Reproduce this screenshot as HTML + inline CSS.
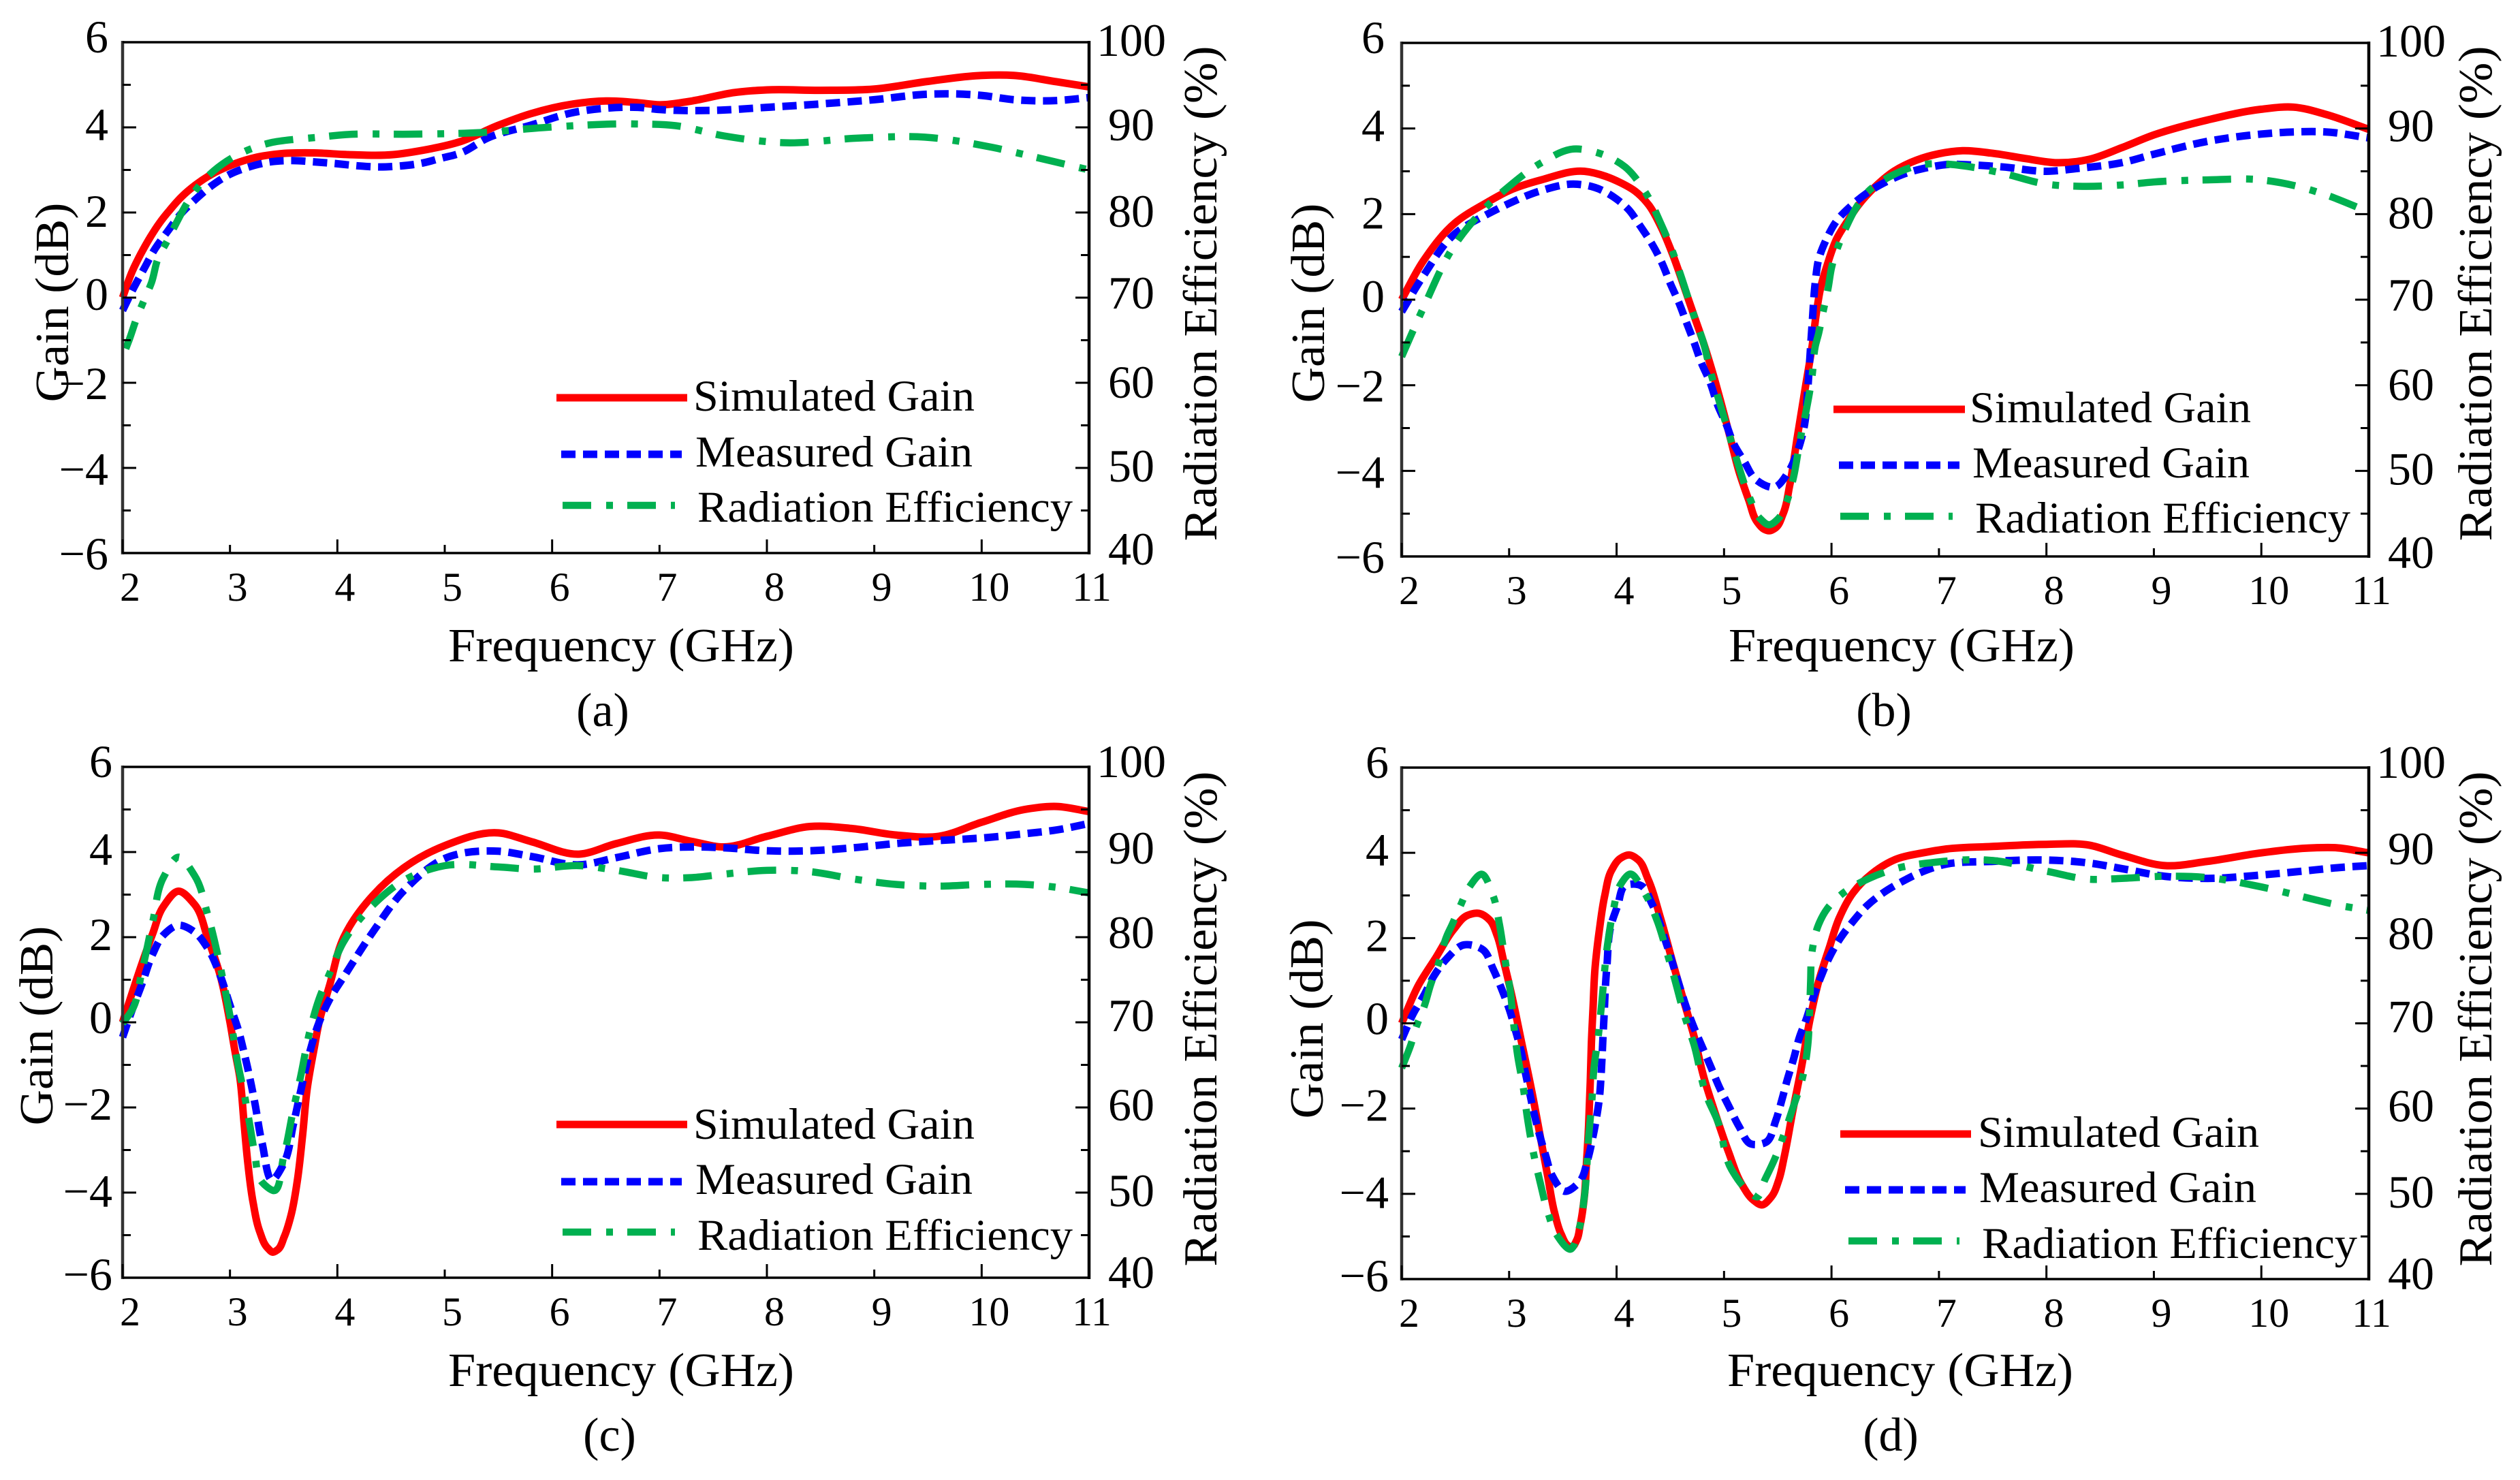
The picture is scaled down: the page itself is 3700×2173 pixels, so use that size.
<!DOCTYPE html>
<html lang="en">
<head>
<meta charset="utf-8">
<title>Gain and radiation efficiency versus frequency</title>
<style>
html,body{margin:0;padding:0;background:#fff;width:3700px;height:2173px;overflow:hidden}
svg{display:block}
text{font-family:"Liberation Serif",serif;fill:#000}
.title{font-size:70px}
.legend{font-size:65px}
.caption{font-size:70px}
</style>
</head>
<body>
<svg id="figure" xmlns="http://www.w3.org/2000/svg" width="3700" height="2173" viewBox="0 0 3700 2173">
<rect x="0" y="0" width="3700" height="2173" fill="#fff"/>

<g id="panel-a">
  <g id="plot-a"></g>
  <text class="title" x="912" y="971" text-anchor="middle" textLength="508" lengthAdjust="spacingAndGlyphs">Frequency (GHz)</text>
  <text class="title" transform="translate(100,444) rotate(-90)" text-anchor="middle" textLength="293" lengthAdjust="spacingAndGlyphs">Gain (dB)</text>
  <text class="title" transform="translate(1786,431) rotate(-90)" text-anchor="middle" textLength="727" lengthAdjust="spacingAndGlyphs">Radiation Efficiency (%)</text>
  <g>
    <line x1="817" x2="1009" y1="584" y2="584" stroke="#ff0000" stroke-width="11"/>
    <text class="legend" x="1018" y="603" textLength="413" lengthAdjust="spacingAndGlyphs">Simulated Gain</text>
    <line x1="824" x2="1001" y1="667" y2="667" stroke="#0000ff" stroke-width="11" stroke-dasharray="21 11"/>
    <text class="legend" x="1021" y="685" textLength="407" lengthAdjust="spacingAndGlyphs">Measured Gain</text>
    <line x1="826" x2="991" y1="742" y2="742" stroke="#00b050" stroke-width="10.5" stroke-dasharray="42 22 10 21"/>
    <text class="legend" x="1024" y="766" textLength="551" lengthAdjust="spacingAndGlyphs">Radiation Efficiency</text>
  </g>
  <text class="caption" x="885" y="1066" text-anchor="middle">(a)</text>
</g>

<g id="panel-b">
  <g id="plot-b"></g>
  <text class="title" x="2792" y="971" text-anchor="middle" textLength="508" lengthAdjust="spacingAndGlyphs">Frequency (GHz)</text>
  <text class="title" transform="translate(1944,445) rotate(-90)" text-anchor="middle" textLength="293" lengthAdjust="spacingAndGlyphs">Gain (dB)</text>
  <text class="title" transform="translate(3658,431) rotate(-90)" text-anchor="middle" textLength="727" lengthAdjust="spacingAndGlyphs">Radiation Efficiency (%)</text>
  <g>
    <line x1="2692" x2="2885" y1="601" y2="601" stroke="#ff0000" stroke-width="11"/>
    <text class="legend" x="2892" y="620" textLength="413" lengthAdjust="spacingAndGlyphs">Simulated Gain</text>
    <line x1="2700" x2="2877" y1="683" y2="683" stroke="#0000ff" stroke-width="11" stroke-dasharray="21 11"/>
    <text class="legend" x="2896" y="701" textLength="407" lengthAdjust="spacingAndGlyphs">Measured Gain</text>
    <line x1="2702" x2="2867" y1="758" y2="758" stroke="#00b050" stroke-width="10.5" stroke-dasharray="42 22 10 21"/>
    <text class="legend" x="2900" y="782" textLength="551" lengthAdjust="spacingAndGlyphs">Radiation Efficiency</text>
  </g>
  <text class="caption" x="2766" y="1066" text-anchor="middle">(b)</text>
</g>

<g id="panel-c">
  <g id="plot-c"></g>
  <text class="title" x="912" y="2035" text-anchor="middle" textLength="508" lengthAdjust="spacingAndGlyphs">Frequency (GHz)</text>
  <text class="title" transform="translate(77,1506) rotate(-90)" text-anchor="middle" textLength="293" lengthAdjust="spacingAndGlyphs">Gain (dB)</text>
  <text class="title" transform="translate(1786,1496) rotate(-90)" text-anchor="middle" textLength="727" lengthAdjust="spacingAndGlyphs">Radiation Efficiency (%)</text>
  <g>
    <line x1="817" x2="1009" y1="1651" y2="1651" stroke="#ff0000" stroke-width="11"/>
    <text class="legend" x="1018" y="1672" textLength="413" lengthAdjust="spacingAndGlyphs">Simulated Gain</text>
    <line x1="824" x2="1001" y1="1735" y2="1735" stroke="#0000ff" stroke-width="11" stroke-dasharray="21 11"/>
    <text class="legend" x="1021" y="1753" textLength="407" lengthAdjust="spacingAndGlyphs">Measured Gain</text>
    <line x1="826" x2="991" y1="1809" y2="1809" stroke="#00b050" stroke-width="10.5" stroke-dasharray="42 22 10 21"/>
    <text class="legend" x="1024" y="1835" textLength="551" lengthAdjust="spacingAndGlyphs">Radiation Efficiency</text>
  </g>
  <text class="caption" x="895" y="2130" text-anchor="middle">(c)</text>
</g>

<g id="panel-d">
  <g id="plot-d"></g>
  <text class="title" x="2790" y="2035" text-anchor="middle" textLength="508" lengthAdjust="spacingAndGlyphs">Frequency (GHz)</text>
  <text class="title" transform="translate(1942,1496) rotate(-90)" text-anchor="middle" textLength="293" lengthAdjust="spacingAndGlyphs">Gain (dB)</text>
  <text class="title" transform="translate(3658,1496) rotate(-90)" text-anchor="middle" textLength="727" lengthAdjust="spacingAndGlyphs">Radiation Efficiency (%)</text>
  <g>
    <line x1="2702" x2="2894" y1="1665" y2="1665" stroke="#ff0000" stroke-width="11"/>
    <text class="legend" x="2904" y="1684" textLength="413" lengthAdjust="spacingAndGlyphs">Simulated Gain</text>
    <line x1="2709" x2="2886" y1="1747" y2="1747" stroke="#0000ff" stroke-width="11" stroke-dasharray="21 11"/>
    <text class="legend" x="2906" y="1765" textLength="407" lengthAdjust="spacingAndGlyphs">Measured Gain</text>
    <line x1="2714" x2="2877" y1="1822" y2="1822" stroke="#00b050" stroke-width="10.5" stroke-dasharray="42 22 10 21"/>
    <text class="legend" x="2910" y="1847" textLength="551" lengthAdjust="spacingAndGlyphs">Radiation Efficiency</text>
  </g>
  <text class="caption" x="2776" y="2130" text-anchor="middle">(d)</text>
</g>
</svg>

<script>
// Tick labels
var freqTicks = [2, 3, 4, 5, 6, 7, 8, 9, 10, 11];
var gainTicks = [6, 4, 2, 0, -2, -4, -6];
var gainMinorTicks = [5, 3, 1, -1, -3, -5];
var effTicks = [100, 90, 80, 70, 60, 50, 40];
var effMinorTicks = [95, 85, 75, 65, 55, 45];

// Panel (a)
var simFreqA = [2,2.09,2.17,2.26,2.34,2.44,2.55,2.68,2.83,3.04,3.25,3.46,3.78,4.1,4.52,4.79,5.15,5.5,5.8,6.2,6.5,6.8,7,7.3,7.7,8,8.5,9,9.5,10,10.3,10.7,11];
var simA = [0,0.62,1.03,1.43,1.74,2.06,2.37,2.65,2.9,3.14,3.3,3.38,3.4,3.36,3.36,3.46,3.67,4.05,4.32,4.55,4.62,4.58,4.53,4.62,4.82,4.88,4.87,4.9,5.08,5.22,5.22,5.07,4.95];
var measFreqA = [2,2.11,2.2,2.3,2.42,2.54,2.68,2.83,3,3.19,3.38,3.58,3.78,3.98,4.18,4.37,4.57,4.77,4.96,5.15,5.4,5.8,6.2,6.5,6.8,7,7.5,8,8.5,9,9.5,10,10.3,10.7,11];
var measA = [-0.3,0.26,0.68,1.14,1.56,1.96,2.31,2.63,2.9,3.08,3.19,3.22,3.19,3.15,3.1,3.07,3.09,3.15,3.27,3.4,3.75,4.05,4.35,4.45,4.47,4.42,4.4,4.47,4.55,4.65,4.78,4.75,4.65,4.63,4.7];
var effFreqA = [2.03,2.06,2.13,2.2,2.27,2.33,2.42,2.5,2.61,2.72,2.85,3.03,3.21,3.38,3.61,3.79,4.08,4.68,5.35,5.95,6.77,7.15,7.6,8.15,8.87,9.47,10.1,10.5,11];
var effA = [64,65,67.55,69.7,71.8,74.6,76.75,78.75,81.3,83.25,84.9,86.5,87.55,88.2,88.6,88.8,89.15,89.2,89.4,90,90.4,90.2,89,88.2,88.75,88.85,87.65,86.5,85];

// Panel (b)
var simFreqB = [2,2.2,2.5,2.8,3,3.3,3.7,3.9,4.04,4.17,4.3,4.41,4.52,4.63,4.72,4.81,4.89,4.97,5.06,5.14,5.23,5.31,5.37,5.42,5.48,5.55,5.61,5.68,5.76,5.82,5.86,5.9,5.96,6.05,6.16,6.26,6.39,6.58,6.79,7,7.22,7.5,7.8,8.1,8.4,8.7,9,9.5,10,10.3,10.6,11];
var simB = [0,0.9,1.8,2.28,2.55,2.8,3,2.88,2.73,2.54,2.21,1.72,1.07,0.29,-0.37,-1.02,-1.67,-2.39,-3.25,-4.02,-4.68,-5.2,-5.36,-5.4,-5.33,-5,-4.35,-3.24,-2,-1.08,-0.3,0.29,0.81,1.43,1.88,2.24,2.6,3,3.26,3.41,3.48,3.42,3.3,3.2,3.28,3.55,3.85,4.2,4.45,4.5,4.33,3.98];
var measFreqB = [2,2.2,2.5,2.8,3,3.3,3.6,3.8,4,4.11,4.22,4.33,4.42,4.5,4.58,4.65,4.72,4.79,4.87,4.94,5.02,5.09,5.19,5.29,5.47,5.6,5.68,5.74,5.78,5.8,5.82,5.85,5.88,5.95,6.05,6.19,6.34,6.52,6.7,6.9,7.09,7.3,7.6,8,8.3,8.7,9,9.5,10,10.3,10.6,11];
var measB = [-0.28,0.55,1.55,2,2.25,2.55,2.7,2.62,2.35,2.11,1.72,1.3,0.87,0.38,-0.07,-0.53,-0.99,-1.48,-1.93,-2.46,-2.91,-3.37,-3.79,-4.19,-4.38,-4.02,-3.57,-3.04,-2.06,-1.3,-0.56,0.42,0.94,1.4,1.85,2.21,2.51,2.77,2.96,3.09,3.16,3.15,3.1,3,3.07,3.2,3.4,3.7,3.87,3.92,3.92,3.78];
var effFreqB = [2,2.2,2.5,2.8,3,3.3,3.6,3.8,4.08,4.27,4.41,4.52,4.6,4.71,4.81,4.88,4.95,5.05,5.12,5.24,5.33,5.42,5.5,5.58,5.64,5.71,5.77,5.82,5.85,5.88,5.92,5.97,6,6.05,6.13,6.22,6.33,6.56,6.86,7.11,7.3,7.6,8,8.3,8.7,9,9.5,10,10.3,10.6,11];
var effB = [63.35,69,76.5,81,83.25,86,87.6,87.25,85.5,82.5,78.95,75.65,72.75,68.5,64.9,61.3,58.35,54.15,51.2,46.8,44.5,43.7,44.35,46.3,48.9,53.8,57.4,61.15,64.6,66.05,68.5,71.45,73.7,75.85,78.3,80.55,82.5,84.5,85.8,85.8,85.5,84.75,83.5,83.25,83.4,83.75,84,84,83.35,82.25,80.25];

// Panel (c)
var simFreqC = [2,2.09,2.18,2.28,2.38,2.52,2.67,2.79,2.91,3,3.045,3.09,3.13,3.165,3.215,3.275,3.35,3.4,3.445,3.505,3.565,3.625,3.675,3.72,3.785,3.83,3.93,4.06,4.33,4.63,5,5.5,5.8,6.25,6.6,7,7.3,7.6,8,8.4,8.8,9.2,9.6,10,10.4,10.7,11];
var simC = [0,0.7,1.38,2.08,2.72,3.08,2.77,2,1.09,0,-0.66,-1.27,-2.34,-3.28,-4.23,-4.9,-5.3,-5.4,-5.34,-5.04,-4.57,-3.76,-2.68,-1.54,-0.6,0,0.89,2,2.98,3.65,4.15,4.45,4.25,3.95,4.2,4.4,4.25,4.12,4.37,4.6,4.55,4.4,4.37,4.7,5,5.07,4.95];
var freqC = [2,2.09,2.18,2.28,2.38,2.52,2.67,2.79,2.91,3,3.08,3.13,3.18,3.23,3.3,3.4,3.5,3.59,3.66,3.74,3.83,3.93,4.06,4.33,4.63,5,5.5,5.8,6.25,6.6,7,7.3,7.6,8,8.4,8.8,9.2,9.6,10,10.4,10.7,11];
var measC = [-0.35,0.3,0.9,1.6,2.05,2.28,2.12,1.75,1.09,0.4,-0.2,-0.7,-1.25,-1.87,-2.85,-3.7,-3.32,-2.4,-1.6,-0.73,0,0.55,1.07,2.12,3.12,3.85,4.02,3.9,3.7,3.87,4.08,4.12,4.1,4.03,4.03,4.1,4.2,4.27,4.33,4.43,4.52,4.67];
var effC = [69.85,71.5,76,81.75,87,89.4,87.25,82.75,76.5,70.75,64.7,61.75,58.3,54.65,51.2,50.25,54.25,59.75,63.75,68.75,72.75,75.8,79.5,83.75,86.75,88.4,88.25,88,88.4,87.85,87,87,87.4,87.85,87.7,86.85,86.2,86,86.2,86.2,85.85,85.2];

// Panel (d)
var simFreqD = [2,2.16,2.32,2.48,2.61,2.72,2.82,2.89,2.95,3.02,3.11,3.21,3.31,3.36,3.42,3.485,3.55,3.58,3.63,3.66,3.7,3.72,3.74,3.755,3.765,3.78,3.8,3.84,3.89,3.955,4.035,4.12,4.2,4.29,4.41,4.52,4.62,4.72,4.81,4.91,5.04,5.17,5.27,5.35,5.44,5.51,5.56,5.64,5.72,5.8,5.88,5.98,6.07,6.2,6.37,6.59,6.85,7.07,7.5,8,8.4,8.7,9.1,9.5,10,10.5,10.7,11];
var simD = [0,0.91,1.55,2.19,2.53,2.58,2.42,2.05,1.45,0.71,-0.37,-1.58,-2.93,-3.6,-4.41,-4.95,-5.22,-5.25,-5.08,-4.75,-4.07,-3.27,-2.39,-1.38,-0.5,0.3,1.31,2.19,3,3.6,3.87,3.95,3.84,3.4,2.46,1.45,0.57,-0.3,-1.25,-2.05,-3,-3.8,-4.14,-4.26,-4.07,-3.67,-3.13,-2.05,-1.04,0.1,0.98,1.78,2.46,3.06,3.5,3.84,4,4.09,4.15,4.2,4.18,3.95,3.7,3.8,4,4.12,4.12,4];
var measFreqD = [2,2.11,2.21,2.3,2.42,2.58,2.76,2.85,2.93,3,3.06,3.11,3.15,3.19,3.23,3.28,3.34,3.4,3.52,3.66,3.73,3.78,3.81,3.84,3.855,3.865,3.875,3.885,3.895,3.91,3.95,4.01,4.08,4.23,4.33,4.47,4.59,4.65,4.72,4.8,4.88,4.96,5.04,5.14,5.25,5.39,5.48,5.54,5.59,5.65,5.7,5.77,5.83,5.9,5.98,6.08,6.2,6.33,6.48,6.66,6.84,7.01,7.5,8,8.4,8.7,9.1,9.5,10,10.5,10.7,11];
var measD = [-0.38,0.24,0.67,1.11,1.52,1.84,1.72,1.28,0.81,0.34,-0.17,-0.64,-1.14,-1.62,-2.09,-2.59,-3.1,-3.57,-3.94,-3.7,-3.2,-2.66,-2.26,-1.75,-1.25,-0.77,-0.24,0.24,0.81,1.35,2.32,2.76,3.23,3.23,2.8,1.82,0.84,0.37,-0.1,-0.57,-1.04,-1.52,-1.92,-2.42,-2.83,-2.79,-2.29,-1.78,-1.31,-0.81,-0.34,0.13,0.61,1.08,1.55,1.99,2.39,2.76,3.06,3.33,3.55,3.7,3.8,3.83,3.76,3.63,3.45,3.4,3.48,3.6,3.65,3.7];
var effFreqD = [2,2.08,2.14,2.21,2.27,2.34,2.42,2.47,2.55,2.63,2.74,2.85,2.91,2.96,3.01,3.04,3.08,3.13,3.17,3.22,3.29,3.36,3.44,3.57,3.65,3.7,3.74,3.77,3.79,3.83,3.86,3.92,3.97,4.04,4.12,4.26,4.38,4.47,4.54,4.63,4.72,4.84,4.94,5.07,5.25,5.3,5.38,5.48,5.54,5.64,5.73,5.78,5.795,5.805,5.82,5.88,5.96,6.09,6.35,6.63,6.93,7.5,8,8.4,8.7,9.1,9.5,10,10.5,10.7,11];
var effD = [64.75,67.3,69.75,72,74.55,76.9,80.25,81.6,83.9,86,87.5,85,81.6,77.6,73.85,70.15,66.15,62.6,58.9,55.2,51.3,47.85,45.25,43.5,45.85,49.65,56.7,60.9,64.8,68.5,72.2,79.6,83.3,86.35,87.5,85.3,81.95,78.25,75.2,71,67.5,61.4,58.55,52.85,50.05,49.65,51.65,54.35,56.35,60.05,63.6,67.5,71,74.7,78.5,81.6,83.45,85.1,87,88.25,88.85,89.1,87.85,86.9,87,87.25,87.1,86,84.5,83.9,83.25];

var SVG_NS = 'http://www.w3.org/2000/svg';

function make(parent, tag) {
  var el = document.createElementNS(SVG_NS, tag);
  parent.appendChild(el);
  return el;
}

function drawSegment(parent, x1, y1, x2, y2, width, color) {
  var el = make(parent, 'line');
  el.setAttribute('x1', x1);
  el.setAttribute('y1', y1);
  el.setAttribute('x2', x2);
  el.setAttribute('y2', y2);
  el.setAttribute('stroke', color);
  el.setAttribute('stroke-width', width);
  return el;
}

function formatGain(v) {
  return v < 0 ? '\u2212' + Math.abs(v) : String(v);
}

// Parametric (chord-length) cubic through the data points
function curvePath(freqs, vals, xScale, yScale) {
  var px = freqs.map(xScale);
  var py = vals.map(yScale);
  var n = px.length;
  var dt = [];
  for (var k = 0; k < n - 1; k++) {
    dt.push(Math.max(0.5, Math.hypot(px[k + 1] - px[k], py[k + 1] - py[k])));
  }
  var tx = [];
  var ty = [];
  for (var i = 0; i < n; i++) {
    if (i === 0) {
      tx.push((px[1] - px[0]) / dt[0]);
      ty.push((py[1] - py[0]) / dt[0]);
    } else if (i === n - 1) {
      tx.push((px[n - 1] - px[n - 2]) / dt[n - 2]);
      ty.push((py[n - 1] - py[n - 2]) / dt[n - 2]);
    } else {
      var a = dt[i - 1];
      var b = dt[i];
      tx.push((((px[i] - px[i - 1]) / a) * b + ((px[i + 1] - px[i]) / b) * a) / (a + b));
      ty.push((((py[i] - py[i - 1]) / a) * b + ((py[i + 1] - py[i]) / b) * a) / (a + b));
    }
  }
  var d = 'M' + px[0].toFixed(1) + ' ' + py[0].toFixed(1);
  for (var j = 0; j < n - 1; j++) {
    var h = dt[j] / 3;
    d += ' C' + (px[j] + tx[j] * h).toFixed(1) + ' ' + (py[j] + ty[j] * h).toFixed(1) +
         ' ' + (px[j + 1] - tx[j + 1] * h).toFixed(1) + ' ' + (py[j + 1] - ty[j + 1] * h).toFixed(1) +
         ' ' + px[j + 1].toFixed(1) + ' ' + py[j + 1].toFixed(1);
  }
  return d;
}

function drawPanel(id, box, labelGap, leftShift, rightShift, simF, sim, measF, meas, effF, eff) {
  var g = document.getElementById('plot-' + id);
  var xScale = function (f) { return box.left + (f - 2) / 9 * (box.right - box.left); };
  var yGain = function (v) { return box.top + (6 - v) / 12 * (box.bottom - box.top); };
  var yEff = function (v) { return box.top + (100 - v) / 60 * (box.bottom - box.top); };

  var lines = [
    ['simulated-gain-curve', simF, sim, yGain, '#ff0000', '', 11],
    ['measured-gain-curve', measF, meas, yGain, '#0000ff', '21 11', 11],
    ['radiation-efficiency-curve', effF, eff, yEff, '#00b050', '42 22 10 21', 10.5]
  ];
  lines.forEach(function (s) {
    var p = make(g, 'path');
    
    
    p.setAttribute('d', curvePath(s[1], s[2], xScale, s[3]));
    p.setAttribute('fill', 'none');
    p.setAttribute('stroke', s[4]);
    p.setAttribute('stroke-width', s[6]);
    p.setAttribute('stroke-linejoin', 'round');
    if (s[5]) p.setAttribute('stroke-dasharray', s[5]);
  });

  var axisTop = drawSegment(g, box.left - 2, box.top, box.right + 2, box.top, 3.5, '#000');
  
  
  var axisBottom = drawSegment(g, box.left - 2, box.bottom, box.right + 2, box.bottom, 3.5, '#000');
  
  
  var axisLeft = drawSegment(g, box.left, box.top - 2, box.left, box.bottom + 2, 4.5, '#333');
  
  
  var axisRight = drawSegment(g, box.right, box.top - 2, box.right, box.bottom + 2, 4.5, '#000');
  
  

  freqTicks.forEach(function (f) {
    var x = xScale(f);
    var len = f % 2 === 0 ? 20 : 12;
    var tick = drawSegment(g, x, box.bottom, x, box.bottom - len, 3, '#000');
    
    
    var t = make(g, 'text');
    
    
    t.setAttribute('x', x + (f === 11 ? 4 : 11));
    t.setAttribute('y', box.bottom + 70);
    t.setAttribute('text-anchor', 'middle');
    t.setAttribute('font-size', '60');
    t.textContent = String(f);
  });

  gainTicks.forEach(function (v, i) {
    var y = yGain(v);
    var tick = drawSegment(g, box.left, y, box.left + 20, y, 3, '#000');
    
    
    var t = make(g, 'text');
    
    
    t.setAttribute('x', box.left - labelGap);
    t.setAttribute('y', y + leftShift[i] + 23);
    t.setAttribute('text-anchor', 'end');
    t.setAttribute('font-size', '68');
    t.textContent = formatGain(v);
  });

  gainMinorTicks.forEach(function (v) {
    var y = yGain(v);
    var tick = drawSegment(g, box.left, y, box.left + 12, y, 3, '#000');
    
    
  });

  effTicks.forEach(function (v, i) {
    var y = yEff(v);
    var tick = drawSegment(g, box.right, y, box.right - 20, y, 3, '#000');
    
    
    var t = make(g, 'text');
    
    
    t.setAttribute('x', box.right + 62);
    t.setAttribute('y', y + rightShift[i] + 23);
    t.setAttribute('text-anchor', 'middle');
    t.setAttribute('font-size', '68');
    t.textContent = String(v);
  });

  effMinorTicks.forEach(function (v) {
    var y = yEff(v);
    var tick = drawSegment(g, box.right, y, box.right - 12, y, 3, '#000');
    
    
  });
}

var topLeftShift = [-8, -4, -2, -5, 1, 2, 1];
var topRightShift = [-3, -4, -2, -7, -1, -3, -6];
var bottomLeftShift = [-8, -4, -4, -7, -5, -2, -5];
var bottomRightShift = [-8, -6, -7, -10, -4, -3, -8];

drawPanel('a', {left: 180, right: 1599, top: 62, bottom: 812}, 21, topLeftShift, topRightShift, simFreqA, simA, measFreqA, measA, effFreqA, effA);
drawPanel('b', {left: 2058, right: 3478, top: 63, bottom: 817}, 25, topLeftShift, topRightShift, simFreqB, simB, measFreqB, measB, effFreqB, effB);
drawPanel('c', {left: 180, right: 1599, top: 1126, bottom: 1876}, 15, bottomLeftShift, bottomRightShift, simFreqC, simC, freqC, measC, freqC, effC);
drawPanel('d', {left: 2058, right: 3478, top: 1127, bottom: 1878}, 19, bottomLeftShift, bottomRightShift, simFreqD, simD, measFreqD, measD, effFreqD, effD);
</script>
</body>
</html>
